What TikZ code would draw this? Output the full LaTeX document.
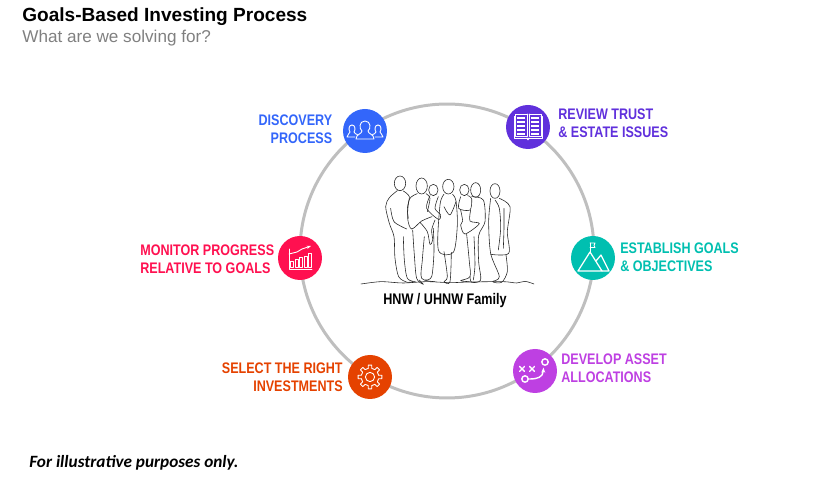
\documentclass[tikz,border=0pt]{standalone}
\usepackage{fontspec}
\setmainfont{Liberation Sans}
\newfontfamily\narrowfont[FakeStretch=0.82]{Liberation Sans}
\newfontfamily\notefont{Carlito}
\usetikzlibrary{arrows.meta}

\definecolor{DiscoveryBlue}{HTML}{3366FA}
\definecolor{ReviewPurple}{HTML}{6030DC}
\definecolor{GoalsTeal}{HTML}{00BFB0}
\definecolor{AssetViolet}{HTML}{BE40E2}
\definecolor{SelectOrange}{HTML}{E54200}
\definecolor{MonitorRed}{HTML}{FF1050}

\tikzset{
    stage/.style={circle, fill=#1, minimum size=0.88cm, inner sep=0pt},
    stagetext/.style={text=#1, font=\narrowfont\bfseries\fontsize{8.72}{10.2}\selectfont, inner sep=0pt},
    iconline/.style={white, line width=0.5pt, line cap=round, line join=round},
    sketch/.style={black!85, line width=0.33pt, line join=round, line cap=round},
}

\begin{document}
\begin{tikzpicture}[x=0.02cm, y=-0.02cm]
    \useasboundingbox (0,0) rectangle (840,499);

    \node (title) at (22,17)[anchor=west, inner sep=0pt, font=\bfseries\fontsize{10.85}{12}\selectfont] {Goals-Based Investing Process};
    \node (subtitle) at (22,38)[anchor=west, inner sep=0pt, text=black!50, font=\fontsize{9.75}{12}\selectfont] {What are we solving for?};
    \node (note) at (29,463)[anchor=west, inner sep=0pt, font=\notefont\bfseries\itshape\fontsize{9.8}{12}\selectfont] {For illustrative purposes only.};

    \node (ring) at (447,251)[circle, draw=black!25, line width=1.7pt, minimum size=5.88cm, inner sep=0pt] {};

    % stages
    \node (discovery) at (365,131)[stage=DiscoveryBlue] {};
    \node (review) at (528,127)[stage=ReviewPurple] {};
    \node (goals) at (593,258)[stage=GoalsTeal] {};
    \node (asset) at (535,371)[stage=AssetViolet] {};
    \node (select) at (370,377)[stage=SelectOrange] {};
    \node (monitor) at (300,258)[stage=MonitorRed] {};

    \node (discoverytext) at (332.5,129.5)[anchor=east, align=right, stagetext=DiscoveryBlue] {DISCOVERY\\PROCESS};
    \node (reviewtext) at (558,123)[anchor=west, align=left, stagetext=ReviewPurple] {REVIEW TRUST\\\& ESTATE ISSUES};
    \node (goalstext) at (620,257.5)[anchor=west, align=left, stagetext=GoalsTeal] {ESTABLISH GOALS\\\& OBJECTIVES};
    \node (assettext) at (561,368.5)[anchor=west, align=left, stagetext=AssetViolet] {DEVELOP ASSET\\ALLOCATIONS};
    \node (selecttext) at (343,377)[anchor=east, align=right, stagetext=SelectOrange] {SELECT THE RIGHT\\INVESTMENTS};
    \node (monitortext) at (140,259)[anchor=west, align=left, stagetext=MonitorRed] {MONITOR PROGRESS\\RELATIVE TO GOALS};

    \node (family) at (445,300.5)[inner sep=0pt, font=\narrowfont\bfseries\fontsize{8.75}{10}\selectfont] {HNW / UHNW Family};

    % discovery icon
    \begin{scope}[shift={(365,131)}, iconline]
        \draw (0,-10) .. controls (-6,-10) and (-6,-2) .. (-3,0) .. controls (-3,3) and (-9,3) .. (-9,8) -- (9,8) .. controls (9,3) and (3,3) .. (3,0) .. controls (6,-2) and (6,-10) .. (0,-10);
        \foreach \s in {-1,1} {
            \draw (\s*13,-6) .. controls (\s*9.5,-6) and (\s*9.5,-1) .. (\s*11,1) .. controls (\s*11,3) and (\s*8,3) .. (\s*7.5,3.5);
            \draw (\s*13,-6) .. controls (\s*16.5,-6) and (\s*16.5,-1) .. (\s*15,1) .. controls (\s*15,3) and (\s*18,3) .. (\s*18,6) -- (\s*10,6);
        }
    \end{scope}

    % review icon
    \begin{scope}[shift={(528,127)}, iconline]
        \draw (-1,-13) -- (-13,-13) -- (-13,9) -- (-1,9) -- (-1,-13);
        \draw (1,-13) -- (13,-13) -- (13,9) -- (1,9) -- (1,-13);
        \draw (-13,-11) -- (-14,-11) -- (-14,11) -- (14,11) -- (14,-11) -- (13,-11);
        \foreach \y in {-9,-5,-1,3,7} {
            \draw[line width=1.1pt, line cap=butt] (-11,\y) -- (-3,\y);
            \draw[line width=1.1pt, line cap=butt] (3,\y) -- (11,\y);
        }
        \fill[white] (-2,11) -- (2,11) -- (0,13.5) -- cycle;
    \end{scope}

    % goals icon
    \begin{scope}[shift={(593,258)}, iconline]
        \draw[line width=0.7pt] (-15,13) -- (-3,-6) -- (9,13) -- cycle;
        \draw[line width=0.7pt] (3,3) -- (8,-3) -- (16,13) -- (9,13);
        \draw (-3,-6) -- (-3,-15);
        \draw (-3,-15) -- (2,-15) -- (1,-12.5) -- (2,-10.5) -- (-3,-10.5);
    \end{scope}

    % asset icon
    \begin{scope}[shift={(535,371)}, iconline]
        \draw[line width=0.8pt] (-10,8) circle[radius=3.2];
        \draw[line width=0.8pt] (10,-9) circle[radius=3.2];
        \foreach \x in {-13,-3} {
            \draw[line width=0.8pt] (\x-2.5,-4.5) -- (\x+2.5,0.5) (\x-2.5,0.5) -- (\x+2.5,-4.5);
        }
        \draw[line width=0.8pt, -{Stealth[length=3pt]}] (-5.5,8) .. controls (3,8) and (8,6) .. (8.5,-3.5);
    \end{scope}

    % select icon
    \begin{scope}[shift={(370,377)}, iconline]
        \foreach \a in {0,45,...,315} {
            \draw (\a-12:8.8) -- (\a-8:12) -- (\a+8:12) -- (\a+12:8.8) -- (\a+33:8.8);
        }
        \draw (0,0) circle[radius=4.6];
    \end{scope}

    % monitor icon
    \begin{scope}[shift={(300,258)}, iconline]
        \draw (-11,-9) -- (-11,11) -- (12,11);
        \foreach \x/\h in {-8/6, -3.5/8, 1/10, 5.5/11, 10/14} {
            \draw (\x-1.5,9) rectangle (\x+1.5,9-\h);
        }
        \draw[-{Stealth[length=2.5pt]}] (-11,-4) -- (-3,-6) -- (2,-9) -- (11,-12);
    \end{scope}

    % family sketch
    \begin{scope}[shift={(370,165)}, x=0.00667cm, y=-0.00667cm, sketch]
        \draw plot[smooth, tension=0.5] coordinates {(-27,357) (10,352) (40,350) (100,354) (170,350) (240,353) (300,351) (400,350) (440,354) (465,349) (492,357)};

        \foreach \cx/\cy/\rx/\ry in {90/55/17/22, 155/63/17/24, 190/75/14/17, 235/65/17/22, 283/75/14/17, 317/75/15/22, 375/78/15/22} {
            \draw (\cx,\cy) ellipse[x radius=\rx, y radius=\ry];
        }

        \draw plot[smooth, tension=0.5] coordinates {(82,77) (58,98) (47,125) (58,175) (72,215) (75,280) (86,335) (112,352) (128,350)};
        \draw plot[smooth, tension=0.5] coordinates {(100,78) (118,95) (112,130) (115,160)};
        \draw plot[smooth, tension=0.5] coordinates {(62,130) (72,170) (110,192)};
        \draw plot[smooth, tension=0.5] coordinates {(100,215) (103,285) (112,340) (136,350)};

        \draw plot[smooth, tension=0.5] coordinates {(142,86) (118,103) (113,160) (125,192) (155,168) (186,155)};
        \draw plot[smooth, tension=0.5] coordinates {(168,86) (180,100) (172,140)};
        \draw plot[smooth, tension=0.5] coordinates {(128,195) (133,270) (140,340) (160,358) (148,345)};
        \draw plot[smooth, tension=0.5] coordinates {(163,215) (157,285) (155,340) (195,350)};
        \draw plot[smooth, tension=0.5] coordinates {(190,190) (192,260) (185,335) (165,345)};

        \draw plot[smooth, tension=0.5] coordinates {(180,92) (170,130) (205,163) (212,150) (195,130) (205,95)};
        \draw plot[smooth, tension=0.5] coordinates {(150,172) (172,200) (180,238) (188,225) (185,195) (195,165)};

        \draw plot[smooth, tension=0.5] coordinates {(222,88) (210,120) (205,255) (250,262) (262,180) (258,108) (248,88)};
        \draw plot[smooth, tension=0.5] coordinates {(222,125) (240,150) (258,110)};
        \draw plot[smooth, tension=0.5] coordinates {(222,260) (232,335) (222,350) (240,350) (244,262)};

        \draw plot[smooth, tension=0.5] coordinates {(272,95) (266,130) (300,135) (305,100) (293,92)};
        \draw plot[smooth, tension=0.5] coordinates {(272,135) (278,168) (272,180) (285,207) (328,176) (300,168) (302,135)};

        \draw plot[smooth, tension=0.5] coordinates {(305,95) (340,105) (345,170) (326,212) (326,290) (332,345) (305,352) (300,335)};
        \draw plot[smooth, tension=0.5] coordinates {(290,208) (298,290) (300,335) (272,347) (298,350)};
        \draw plot[smooth, tension=0.5] coordinates {(312,215) (315,300) (310,345)};

        \draw plot[smooth, tension=0.5] coordinates {(362,100) (356,170) (362,265) (388,335) (368,350) (395,352) (412,320) (408,270)};
        \draw plot[smooth, tension=0.5] coordinates {(388,100) (420,125) (412,200) (416,265) (362,268)};
        \draw plot[smooth, tension=0.5] coordinates {(375,105) (388,130) (392,190) (385,255)};
        \draw plot[smooth, tension=0.5] coordinates {(402,130) (402,190) (400,250)};
    \end{scope}
\end{tikzpicture}
\end{document}
